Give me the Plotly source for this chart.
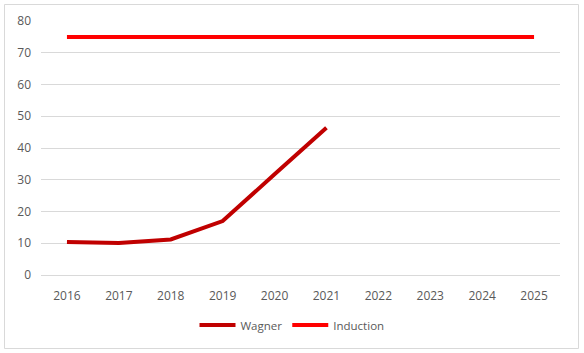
import plotly.graph_objects as go

years = ["2016", "2017", "2018", "2019", "2020", "2021", "2022", "2023", "2024", "2025"]
wagner = [10.4, 10.1, 11.2, 17.0, 31.7, 46.4]
induction = [75, 75, 75, 75, 75, 75, 75, 75, 75, 75]

fig = go.Figure()
fig.add_trace(go.Scatter(x=years[:len(wagner)], y=wagner, mode="lines", name="Wagner",
                         line=dict(color="#C00000", width=4)))
fig.add_trace(go.Scatter(x=years, y=induction, mode="lines", name="Induction",
                         line=dict(color="#FF0000", width=4)))

L, R, T, B = 41, 24, 21, 78
W, H = 584, 353
pw, ph = W - L - R, H - T - B

def px_x(p):
    return (p - L) / pw

def px_y(p):
    return (H - B - p) / ph

fig.update_layout(
    width=W, height=H,
    margin=dict(l=L, r=R, t=T, b=B),
    paper_bgcolor="white", plot_bgcolor="white",
    font=dict(family="Open Sans, Liberation Sans, sans-serif", size=12, color="#595959"),
    showlegend=True,
    legend=dict(orientation="h", x=px_x(292), xanchor="center", y=px_y(325), yanchor="middle",
                font=dict(size=11.5, color="#595959"), itemwidth=36, tracegroupgap=0),
    xaxis=dict(type="category", range=[-0.5, 9.5], showgrid=False, showline=False, zeroline=False,
               ticks="", ticklabelstandoff=12, tickfont=dict(size=12, color="#595959")),
    yaxis=dict(range=[0, 80], dtick=10, showgrid=True, gridcolor="#D9D9D9", gridwidth=1,
               zeroline=True, zerolinecolor="#D9D9D9", zerolinewidth=1, showline=False,
               ticks="", ticklabelstandoff=9, tickfont=dict(size=12, color="#595959")),
    shapes=[dict(type="rect", xref="paper", yref="paper",
                 x0=px_x(4.5), x1=px_x(578.5), y0=px_y(348.5), y1=px_y(4.5),
                 line=dict(color="#D9D9D9", width=1), fillcolor="rgba(0,0,0,0)", layer="below")],
)

fig.write_html("out.html")
